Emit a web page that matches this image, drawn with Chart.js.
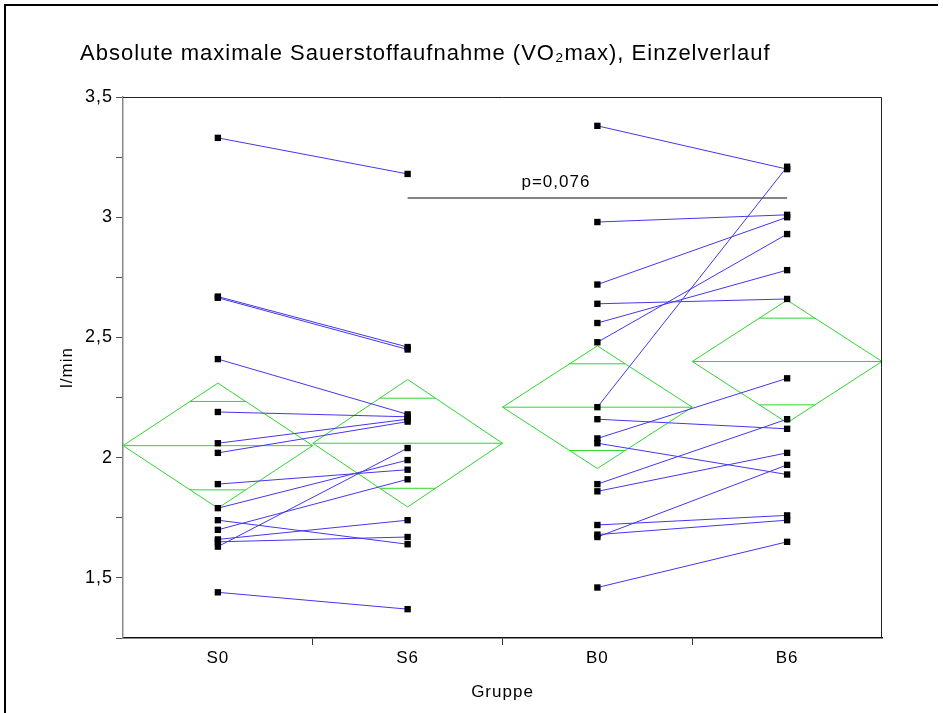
<!DOCTYPE html>
<html lang="de">
<head>
<meta charset="UTF-8">
<title>VO2max Einzelverlauf</title>
<script src="https://cdn.jsdelivr.net/npm/chart.js"></script>
<style>
  html, body { margin: 0; padding: 0; background: #fff; }
  #wrap { position: relative; width: 943px; height: 713px; overflow: hidden; }
  #frame { position: absolute; left: 4px; top: 4px; width: 932px; height: 720px;
           border-top: 2px solid #000; border-left: 2px solid #000; }
  #chart { position: absolute; left: 0; top: 0; }
</style>
</head>
<body>
<div id="wrap">
  <div id="frame"></div>
  <canvas id="chart" width="943" height="713"></canvas>
</div>
<script>
const title = "Absolute maximale Sauerstoffaufnahme (VO\u2082max), Einzelverlauf";
const groups = ["S0", "S6", "B0", "B6"];
const yTicks = [1.5, 2, 2.5, 3, 3.5];

// S-Gruppe: Proband k vorher (S0) / nachher (S6), l/min
const s0 = [3.33, 2.67, 2.665, 2.41, 2.19, 2.06, 2.02, 1.89, 1.79, 1.74, 1.70, 1.66, 1.65, 1.63, 1.44];
const s6 = [3.18, 2.46, 2.45, 2.18, 2.17, 2.16, 2.15, 1.95, 1.99, 1.64, 1.91, 1.74, 1.67, 2.04, 1.37];

// B-Gruppe: vorher (B0) / nachher (B6)
const b0 = [3.38, 2.98, 2.72, 2.64, 2.56, 2.48, 2.21, 2.16, 2.08, 2.06, 1.89, 1.86, 1.72, 1.68, 1.67, 1.46];
const b6 = [3.20, 3.01, 3.00, 2.66, 2.78, 2.93, 3.21, 2.12, 2.33, 1.93, 2.16, 2.02, 1.76, 1.74, 1.97, 1.65];

// Mittelwert-Rauten: Mittelwert und halbe Hoehe (Konfidenzintervall)
const groupMean = [2.05, 2.06, 2.21, 2.40];
const groupCi = [0.26, 0.265, 0.255, 0.255];

// Vergleich S6 gegen B6
const pLabel = "p=0,076";
const pFrom = "S6", pTo = "B6";
const pBarY = 3.08;
const pLabelX = 2.1;

const blue = '#4436ee';
const green = '#2fd52f';
const fontFamily = '"Liberation Sans", Arial, sans-serif';
const spacing = '1px';

function pairSets(a, b, first) {
  const i0 = groups.indexOf(first);
  return a.map((v, k) => ({
    data: [{x: i0 + 0.5, y: v}, {x: i0 + 1.5, y: b[k]}],
    borderColor: blue,
    borderWidth: 1,
    pointStyle: 'rect',
    pointRadius: 4.5,
    pointBackgroundColor: '#000',
    pointBorderWidth: 0
  }));
}

function diamondSets(i) {
  const m = groupMean[i], h = groupCi[i];
  const q = h * Math.SQRT1_2;          // Ueberlappungsmarken
  const w = 0.5 * (1 - Math.SQRT1_2);
  const c = i + 0.5;
  return [
    [{x: i, y: m}, {x: c, y: m + h}, {x: i + 1, y: m}, {x: c, y: m - h}, {x: i, y: m}],
    [{x: i, y: m}, {x: i + 1, y: m}],
    [{x: c - w, y: m + q}, {x: c + w, y: m + q}],
    [{x: c - w, y: m - q}, {x: c + w, y: m - q}]
  ].map(d => ({data: d, borderColor: green, borderWidth: 1, pointRadius: 0, clip: false}));
}

const sigSet = {
  data: [{x: groups.indexOf(pFrom) + 0.5, y: pBarY}, {x: groups.indexOf(pTo) + 0.5, y: pBarY}],
  borderColor: '#5a5a5a',
  borderWidth: 1.5,
  pointRadius: 0
};

const datasets = [
  ...pairSets(s0, s6, "S0"),
  ...pairSets(b0, b6, "B0"),
  sigSet,
  ...groups.flatMap((g, i) => diamondSets(i))
];

const extras = {
  id: 'extras',
  // etwas Laufweite fuer alle Beschriftungen (Canvas-Zustand geht beim Resize verloren)
  beforeUpdate(chart) { chart.ctx.letterSpacing = spacing; },
  beforeDraw(chart) { chart.ctx.letterSpacing = spacing; },
  afterDraw(chart) {
    const {ctx, chartArea: a, scales: {x, y}} = chart;
    ctx.save();
    // obere und rechte Rahmenlinie
    ctx.strokeStyle = '#222';
    ctx.lineWidth = 1;
    ctx.beginPath();
    ctx.moveTo(a.left, a.top + 0.5);
    ctx.lineTo(a.right - 0.5, a.top + 0.5);
    ctx.lineTo(a.right - 0.5, a.bottom);
    ctx.stroke();

    ctx.fillStyle = '#000';
    ctx.textAlign = 'left';
    ctx.textBaseline = 'alphabetic';
    ctx.font = '22px ' + fontFamily;
    ctx.fillText(title, 80, 60);

    ctx.font = '17px ' + fontFamily;
    ctx.fillText(pLabel, x.getPixelForValue(pLabelX), y.getPixelForValue(pBarY) - 11);
    ctx.restore();
  }
};

Chart.defaults.font.family = fontFamily;
Chart.defaults.color = '#000';

new Chart(document.getElementById('chart'), {
  type: 'line',
  data: { datasets },
  options: {
    responsive: false,
    animation: false,
    events: [],
    layout: { padding: { top: 97, right: 61, left: 0, bottom: 0 } },
    elements: { line: { tension: 0 } },
    plugins: { legend: { display: false }, tooltip: { enabled: false } },
    scales: {
      x: {
        type: 'linear',
        min: 0,
        max: 4,
        afterFit: s => { s.height = 75; },
        afterBuildTicks: s => {
          s.ticks = [0.5, 1, 1.5, 2, 2.5, 3, 3.5].map(v => ({value: v}));
        },
        ticks: {
          autoSkip: false,
          maxRotation: 0,
          padding: 3,
          font: { size: 17 },
          callback: v => Number.isInteger(v) ? '' : groups[Math.floor(v)]
        },
        grid: {
          drawOnChartArea: false,
          tickLength: 7,
          tickColor: c => (c.tick && Number.isInteger(c.tick.value)) ? '#333' : 'rgba(0,0,0,0)'
        },
        border: { color: '#111', width: 1.5 },
        title: { display: true, text: 'Gruppe', font: { size: 17 }, padding: { top: 0, bottom: 10 } }
      },
      y: {
        min: 1.25,
        max: 3.5,
        afterFit: s => { s.width = 123; },
        ticks: {
          stepSize: 0.25,
          autoSkip: false,
          padding: 3,
          font: { size: 18 },
          callback: v => yTicks.includes(v) ? String(v).replace('.', ',') : ''
        },
        grid: { drawOnChartArea: false, tickLength: 7, tickColor: '#555' },
        border: { color: '#888', width: 1.5 },
        title: { display: true, text: 'l/min', font: { size: 17 }, padding: { top: 57, bottom: 0 } }
      }
    }
  },
  plugins: [extras]
});
</script>
</body>
</html>
